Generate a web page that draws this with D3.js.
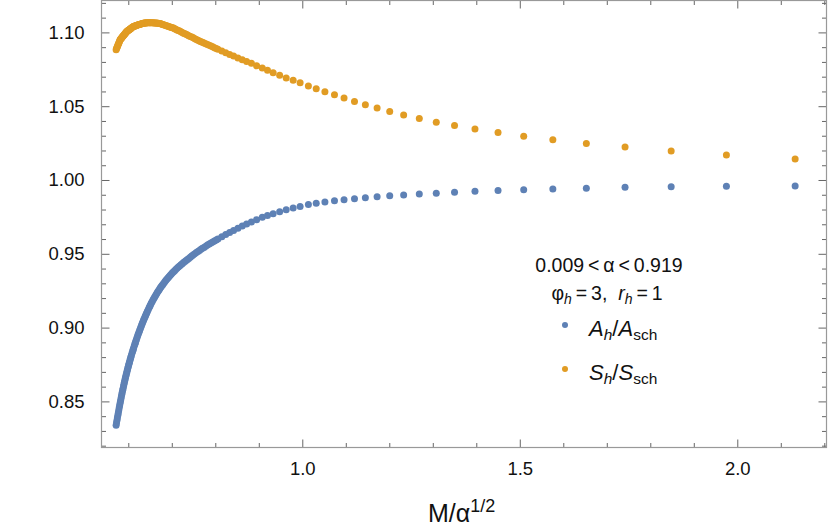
<!DOCTYPE html>
<html><head><meta charset="utf-8">
<script src="https://cdn.jsdelivr.net/npm/d3@7"></script>
<style>body{margin:0;background:#fff}svg{display:block}text{font-family:"Liberation Sans",Arial,sans-serif;fill:#111}</style>
</head><body><svg id="c" width="830" height="530"></svg>
<script>
// M/alpha^{1/2}
const xValues=[0.572,0.573,0.574,0.575,0.576,0.577,0.578,0.579,0.580,0.581,0.582,0.583,0.584,0.585,0.586,0.587,0.588,0.589,0.590,
0.591,0.592,0.593,0.594,0.595,0.596,0.597,0.598,0.599,0.600,0.601,0.602,0.603,0.604,0.605,0.606,0.607,0.6085,0.610,0.611,0.612,0.6135,0.615,0.616,0.617,0.6185,0.620,0.6215,0.623,0.6245,0.626,0.6275,0.629,0.6305,0.632,0.6335,0.635,0.6365,0.638,0.6395,0.641,0.6425,0.644,0.646,0.648,0.6495,0.651,0.653,0.655,0.657,0.659,0.661,0.663,0.665,0.667,0.669,0.671,0.673,0.675,0.677,0.679,0.6815,0.684,0.6865,0.689,0.6915,0.694,0.6965,0.699,0.7015,0.704,0.7065,0.709,0.712,0.715,0.718,0.721,0.724,0.727,0.730,0.733,0.736,0.739,0.7425,0.746,0.7495,0.753,0.7565,0.760,0.7635,0.767,0.7705,0.774,0.778,0.782,0.786,0.790,0.794,0.798,0.802,0.806,
0.815,0.824,0.833,0.842,0.852,0.862,0.872,0.883,0.895,0.908,0.920,0.933,0.948,0.963,0.979,0.995,1.014,1.032,1.052,1.074,1.096,1.120,1.145,1.172,1.201,1.233,1.269,1.308,1.350,1.397,1.450,1.509,1.576,1.653,1.742,1.848,1.975,2.133];
// A_h / A_sch
const areaRatio=[0.8338,0.8355,0.8373,0.8389,0.8406,0.8422,0.8439,0.8455,0.8470,0.8486,0.8501,0.8516,0.8531,0.8546,0.8560,0.8575,0.8588,0.8602,0.8616,
0.8629,0.8642,0.8655,0.8667,0.8679,0.8691,0.8703,0.8715,0.8726,0.8737,0.8748,0.8759,0.8769,0.8780,0.8790,0.8801,0.8811,0.8826,0.8840,0.8850,0.8859,0.8873,0.8887,0.8896,0.8905,0.8918,0.8931,0.8944,0.8956,0.8968,0.8980,0.8992,0.9004,0.9016,0.9027,0.9038,0.9049,0.9060,0.9070,0.9081,0.9091,0.9101,0.9111,0.9123,0.9136,0.9145,0.9154,0.9166,0.9177,0.9188,0.9199,0.9209,0.9220,0.9230,0.9239,0.9248,0.9257,0.9266,0.9275,0.9283,0.9291,0.9301,0.9311,0.9320,0.9330,0.9338,0.9347,0.9355,0.9363,0.9371,0.9379,0.9386,0.9393,0.9402,0.9410,0.9418,0.9426,0.9433,0.9441,0.9448,0.9455,0.9462,0.9469,0.9477,0.9485,0.9493,0.9501,0.9508,0.9515,0.9523,0.9530,0.9537,0.9543,0.9551,0.9559,0.9566,0.9573,0.9580,0.9587,0.9594,0.9601,
0.9616,0.9630,0.9644,0.9658,0.9673,0.9688,0.9702,0.9716,0.9731,0.9747,0.9759,0.9772,0.9785,0.9798,0.9810,0.9821,0.9834,0.9843,0.9851,0.9859,0.9866,0.9873,0.9880,0.9887,0.9893,0.9899,0.9905,0.9911,0.9917,0.9923,0.9929,0.9934,0.9939,0.9944,0.9951,0.9955,0.9957,0.9959];
// S_h / S_sch
const entropyRatio=[1.0883,1.0891,1.0898,1.0905,1.0913,1.0920,1.0927,1.0934,1.0942,1.0949,1.0953,1.0957,1.0961,1.0964,1.0968,1.0972,1.0975,1.0979,1.0983,
1.0986,1.0990,1.0993,1.0997,1.1001,1.1004,1.1007,1.1009,1.1011,1.1014,1.1016,1.1018,1.1020,1.1023,1.1025,1.1027,1.1029,1.1033,1.1036,1.1038,1.1040,1.1042,1.1043,1.1044,1.1045,1.1047,1.1048,1.1050,1.1051,1.1053,1.1054,1.1056,1.1057,1.1059,1.1060,1.1061,1.1062,1.1063,1.1063,1.1064,1.1064,1.1065,1.1065,1.1066,1.1066,1.1066,1.1066,1.1066,1.1065,1.1065,1.1064,1.1064,1.1063,1.1063,1.1062,1.1062,1.1061,1.1060,1.1058,1.1056,1.1054,1.1052,1.1049,1.1047,1.1044,1.1042,1.1039,1.1037,1.1034,1.1032,1.1029,1.1025,1.1021,1.1017,1.1013,1.1009,1.1004,1.1000,1.0995,1.0991,1.0987,1.0983,1.0978,1.0973,1.0968,1.0963,1.0957,1.0952,1.0947,1.0942,1.0937,1.0933,1.0928,1.0923,1.0918,1.0913,1.0907,1.0902,1.0896,1.0891,1.0886,
1.0874,1.0862,1.0851,1.0840,1.0827,1.0815,1.0802,1.0791,1.0774,1.0759,1.0743,1.0727,1.0709,1.0691,1.0675,1.0659,1.0637,1.0619,1.0598,1.0578,1.0555,1.0532,1.0509,1.0487,1.0464,1.0441,1.0417,1.0392,1.0369,1.0345,1.0321,1.0297,1.0272,1.0248,1.0224,1.0197,1.0169,1.0142];
const xTickLabels=[1.0,1.5,2.0];
const yTickLabels=[0.85,0.90,0.95,1.00,1.05,1.10];
const seriesNames=["A","S"];

const svg=d3.select("#c");
const L=101.5,R=826.5,T=0.5,B=447.5;
const x=d3.scaleLinear().domain([0.5384,2.2051]).range([L,R]);
const y=d3.scaleLinear().domain([0.81877,1.12161]).range([B,T]);
const blue="#5E81B5", orange="#E19C24";

const xMinor=d3.range(6,23).map(d=>d/10).filter(v=>!xTickLabels.some(t=>Math.abs(t-v)<1e-9));
const yMinor=d3.range(82,113).map(d=>d/100).filter(v=>!yTickLabels.some(t=>Math.abs(t-v)<1e-9));

const tickCol="#666";
svg.append("g").attr("transform",`translate(0,${B})`)
  .call(d3.axisBottom(x).tickValues(xTickLabels).tickFormat(d3.format(".1f")).tickSize(-8).tickPadding(14));
svg.append("g").attr("transform",`translate(0,${B})`)
  .call(d3.axisBottom(x).tickValues(xMinor).tickFormat("").tickSize(-4.5));
svg.append("g").attr("transform",`translate(0,${T})`).call(d3.axisTop(x).tickValues(xTickLabels).tickFormat("").tickSize(-8));
svg.append("g").attr("transform",`translate(0,${T})`).call(d3.axisTop(x).tickValues(xMinor).tickFormat("").tickSize(-4.5));
svg.append("g").attr("transform",`translate(${L},0)`)
  .call(d3.axisLeft(y).tickValues(yTickLabels).tickFormat(d3.format(".2f")).tickSize(-8).tickPadding(17));
svg.append("g").attr("transform",`translate(${L},0)`).call(d3.axisLeft(y).tickValues(yMinor).tickFormat("").tickSize(-4.5));
svg.append("g").attr("transform",`translate(${R},0)`).call(d3.axisRight(y).tickValues(yTickLabels).tickFormat("").tickSize(-8));
svg.append("g").attr("transform",`translate(${R},0)`).call(d3.axisRight(y).tickValues(yMinor).tickFormat("").tickSize(-4.5));

svg.selectAll(".domain").remove();
svg.selectAll(".tick line").attr("stroke",tickCol).attr("stroke-width",1);
svg.selectAll(".tick text").attr("font-size",18.5).attr("fill","#111").style("font-family","'Liberation Sans',Arial,sans-serif");

svg.append("rect").attr("x",L).attr("y",T).attr("width",R-L).attr("height",B-T)
  .attr("fill","none").attr("stroke","#999").attr("stroke-width",1.2);

const n=Math.min(xValues.length,areaRatio.length,entropyRatio.length);
const ptsA=xValues.slice(0,n).map((v,i)=>({x:v,y:areaRatio[i]}));
const ptsS=xValues.slice(0,n).map((v,i)=>({x:v,y:entropyRatio[i]}));
svg.append("g").selectAll("circle").data(ptsA).join("circle")
  .attr("cx",d=>x(d.x)).attr("cy",d=>y(d.y)).attr("r",3.5).attr("fill",blue);
svg.append("g").selectAll("circle").data(ptsS).join("circle")
  .attr("cx",d=>x(d.x)).attr("cy",d=>y(d.y)).attr("r",3.5).attr("fill",orange);

// x axis title
const xt=svg.append("text").attr("x",428).attr("y",522).attr("font-size",25);
xt.append("tspan").text("M/α");
xt.append("tspan").attr("dy",-10).attr("font-size",18).text("1/2");

// legend
const lg=svg.append("g");
lg.append("text").attr("x",609).attr("y",272).attr("text-anchor","middle").attr("font-size",19.5)
  .text("0.009\u2009<\u2009α\u2009<\u20090.919");
const l2=lg.append("text").attr("x",607).attr("y",300).attr("text-anchor","middle").attr("font-size",19.5);
l2.append("tspan").text("φ");
l2.append("tspan").attr("font-style","italic").attr("font-size",14).attr("dy",4).text("h");
l2.append("tspan").attr("dy",-4).text("\u2009=\u20093,\u00A0\u00A0");
l2.append("tspan").attr("font-style","italic").text("r");
l2.append("tspan").attr("font-style","italic").attr("font-size",14).attr("dy",4).text("h");
l2.append("tspan").attr("dy",-4).text("\u2009=\u20091");

const items=[{c:blue,n:seriesNames[0],yy:325},{c:orange,n:seriesNames[1],yy:369}];
items.forEach(it=>{
  lg.append("circle").attr("cx",565).attr("cy",it.yy).attr("r",3).attr("fill",it.c);
  const t=lg.append("text").attr("x",589).attr("y",it.yy+11).attr("font-size",22);
  t.append("tspan").attr("font-style","italic").text(it.n);
  t.append("tspan").attr("font-style","italic").attr("font-size",15.5).attr("dy",4).text("h");
  t.append("tspan").attr("dy",-4).text("/");
  t.append("tspan").attr("font-style","italic").text(it.n);
  t.append("tspan").attr("font-size",15.5).attr("dy",4).text("sch");
});
</script></body></html>
